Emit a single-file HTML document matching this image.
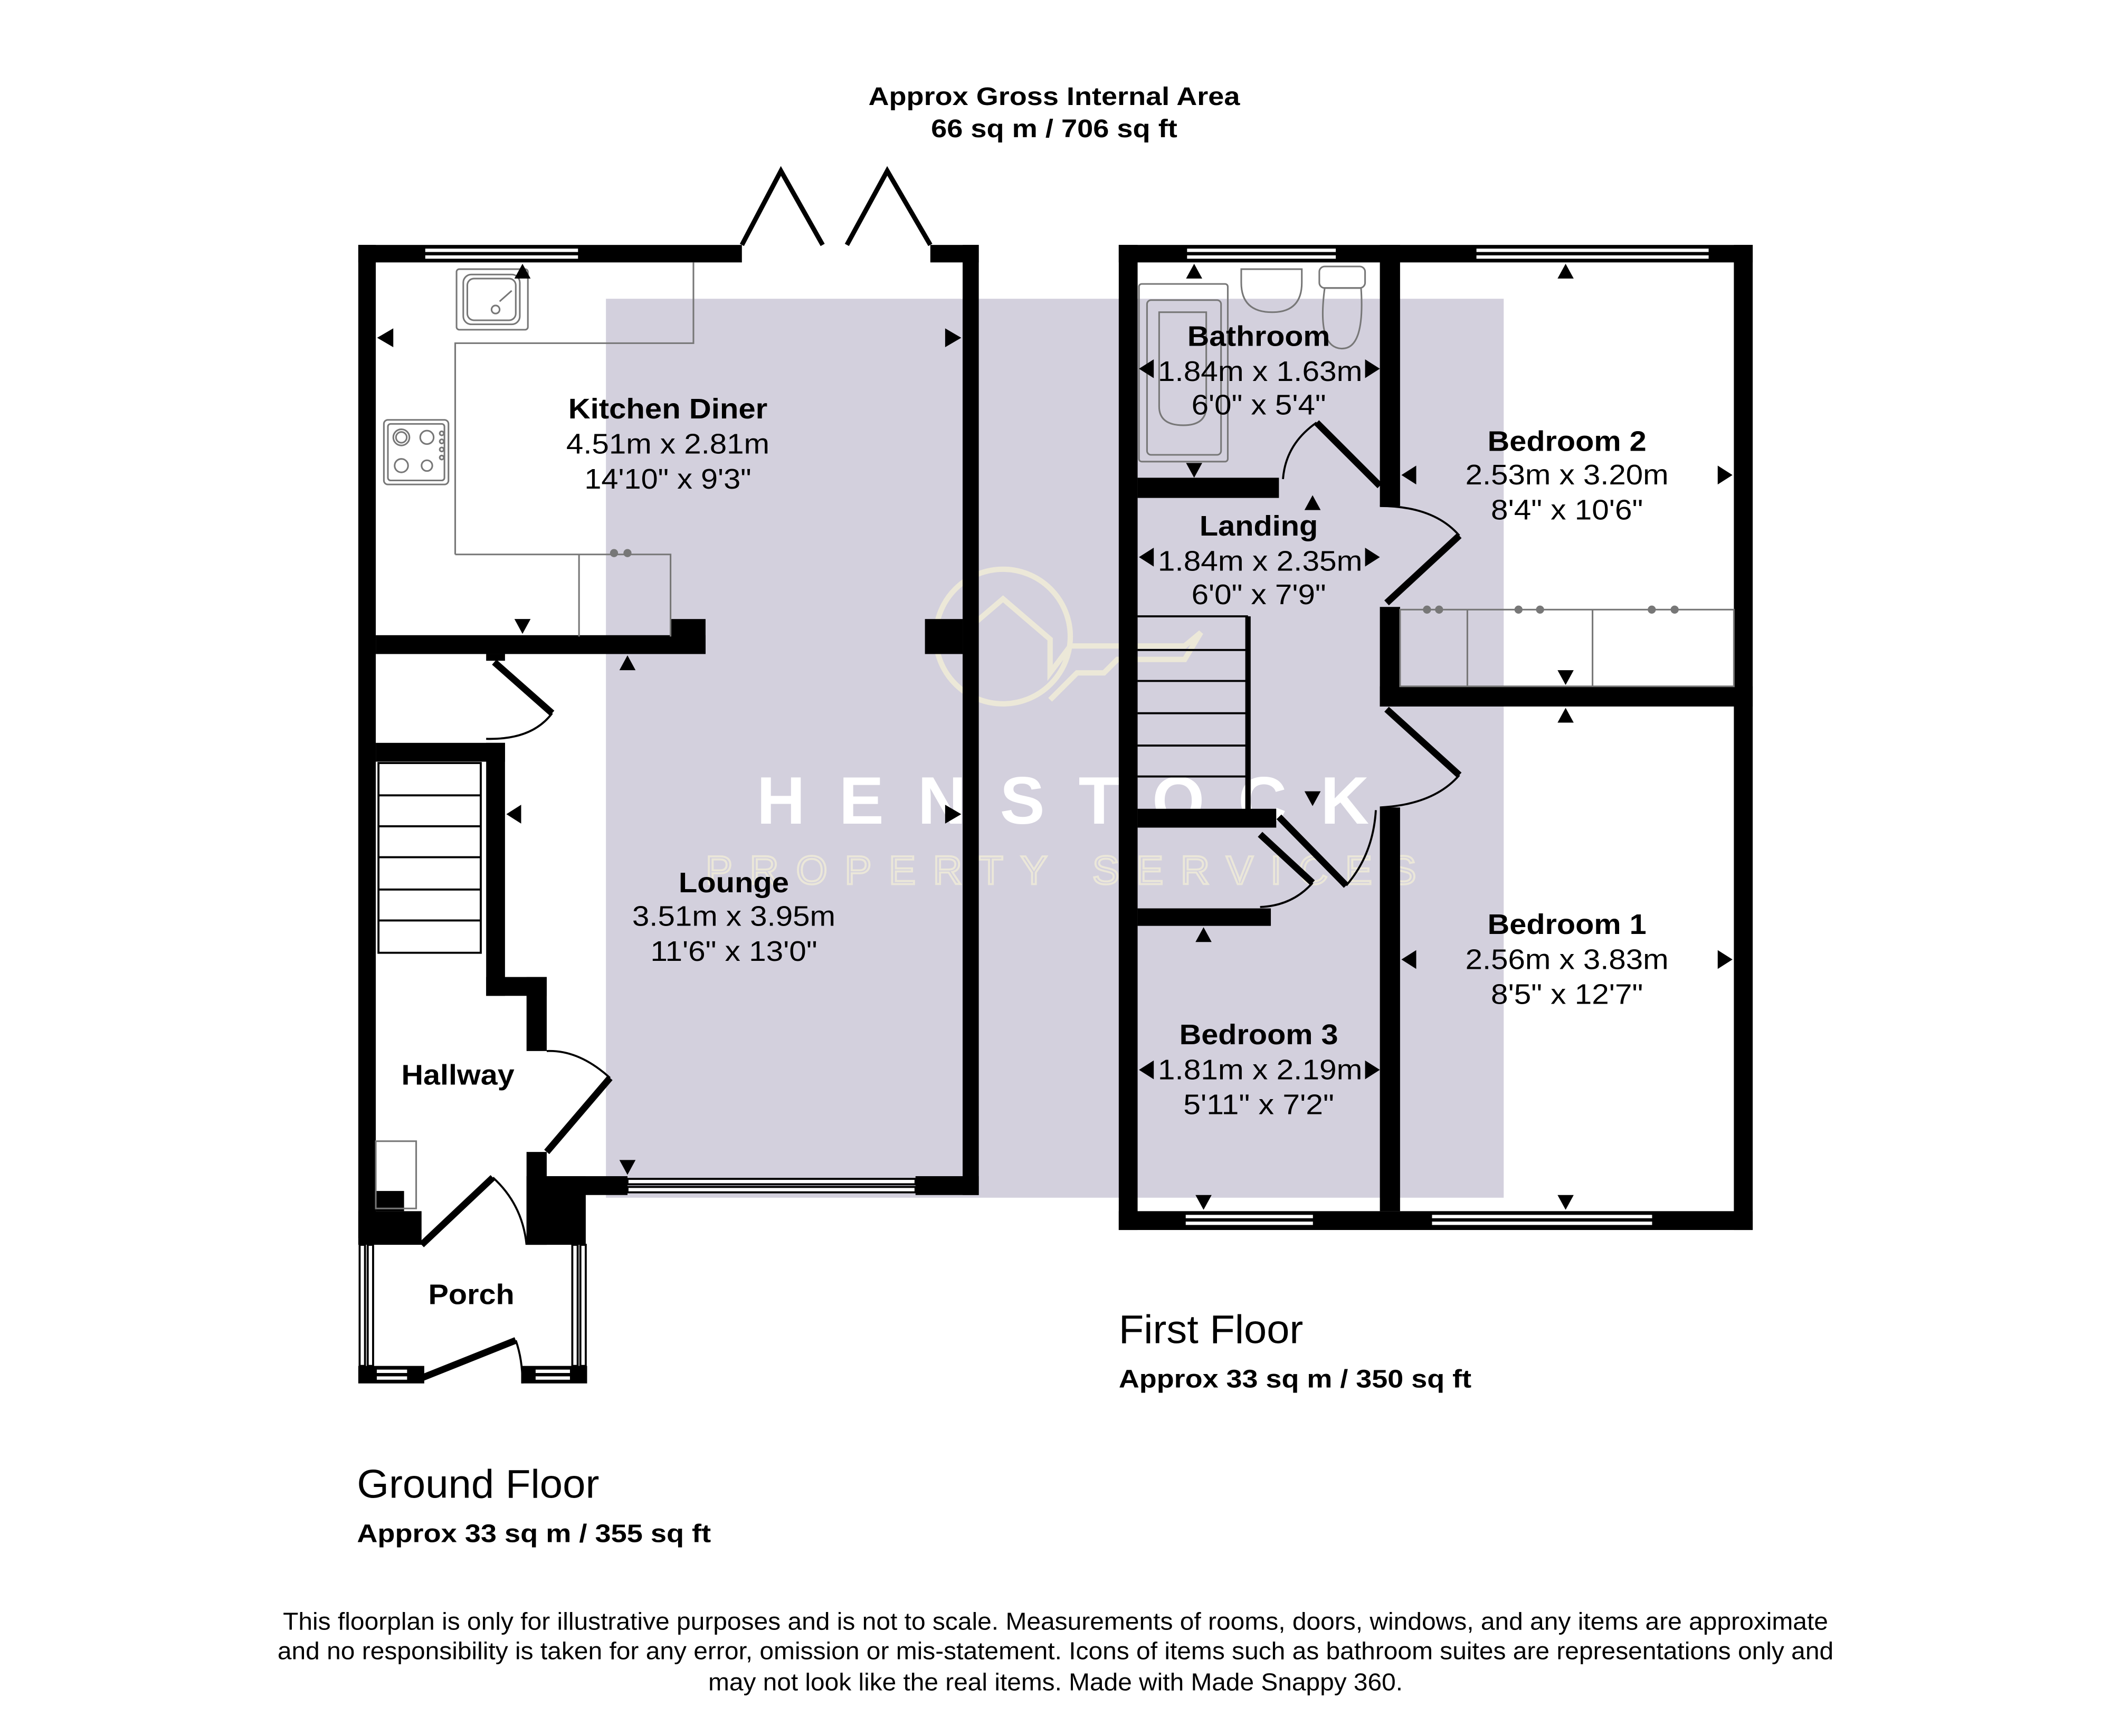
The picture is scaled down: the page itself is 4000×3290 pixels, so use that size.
<!DOCTYPE html>
<html><head><meta charset="utf-8"><style>
html,body{margin:0;padding:0;background:#fff;}
svg{display:block;}
text{font-family:"Liberation Sans Narrow","Liberation Sans",Arial,sans-serif;fill:#000;}
.b{font-weight:bold;}
</style></head><body>
<svg width="4000" height="3290" viewBox="0 0 1568 1290" xmlns="http://www.w3.org/2000/svg">
<rect width="1568" height="1290" fill="#fff"/>
<!-- watermark bg -->
<rect x="450" y="222" width="667" height="668" fill="#d3d0dd"/>
<!-- key logo -->
<g fill="none" stroke="#ece8d8" stroke-width="4">
<circle cx="745" cy="473" r="50"/>
<path d="M710 475 L745 445 L780 475 L780 500 L795 480 L880 480 L892 470 L880 490 L830 490 L820 500 L800 500 L780 520"/>
</g>
<text x="562" y="612" style="font-family:'Liberation Sans',sans-serif;font-weight:bold;font-size:50px;fill:#fff" textLength="455" lengthAdjust="spacing">HENSTOCK</text>
<text x="524" y="657" style="font-family:'Liberation Sans',sans-serif;font-size:30px;fill:none;stroke:#ebe7d9;stroke-width:1.5" textLength="528" lengthAdjust="spacing">PROPERTY SERVICES</text>

<!-- titles -->
<text class="b" x="783" y="78" font-size="19" text-anchor="middle" textLength="276" lengthAdjust="spacingAndGlyphs">Approx Gross Internal Area</text>
<text class="b" x="783" y="102" font-size="19" text-anchor="middle" textLength="183" lengthAdjust="spacingAndGlyphs">66 sq m / 706 sq ft</text>

<g fill="#000">
<!-- GROUND FLOOR walls -->
<rect x="266" y="182" width="285" height="13"/>
<rect x="691" y="182" width="36" height="13"/>
<rect x="266" y="182" width="13" height="738"/>
<rect x="715" y="182" width="12" height="706"/>
<rect x="279" y="472" width="245" height="14"/>
<rect x="498" y="460" width="26" height="26"/>
<rect x="687" y="460" width="28" height="26"/>
<rect x="361" y="486" width="14" height="5"/>
<rect x="279" y="552" width="96" height="14"/>
<rect x="361" y="552" width="14" height="188"/>
<rect x="361" y="726" width="45" height="14"/>
<rect x="391" y="726" width="15" height="55"/>
<rect x="391" y="856" width="15" height="69"/>
<rect x="391" y="874" width="44" height="51"/>
<rect x="406" y="874" width="60" height="14"/>
<rect x="680" y="874" width="47" height="14"/>
<rect x="266" y="900" width="47" height="25"/>
<rect x="279" y="885" width="21" height="15"/>
<rect x="266" y="1015" width="49" height="13"/>
<rect x="387" y="1015" width="49" height="13"/>
<!-- FIRST FLOOR walls -->
<rect x="831" y="182" width="471" height="13"/>
<rect x="831" y="182" width="14" height="732"/>
<rect x="1288" y="182" width="14" height="732"/>
<rect x="831" y="900" width="471" height="14"/>
<rect x="1025" y="182" width="15" height="194"/>
<rect x="1025" y="451" width="15" height="74"/>
<rect x="1025" y="600" width="15" height="300"/>
<rect x="1025" y="510" width="277" height="15"/>
<rect x="845" y="355" width="105" height="15"/>
<rect x="845" y="601" width="103" height="14"/>
<rect x="845" y="675" width="99" height="13"/>
</g>
<!-- windows -->
<g fill="#fff" stroke="#000" stroke-width="1.5">
<rect x="315" y="184" width="115" height="4"/><rect x="315" y="189" width="115" height="4"/>
<rect x="466" y="876" width="214" height="4"/><rect x="466" y="882" width="214" height="4"/>
<rect x="881" y="184" width="112" height="4"/><rect x="881" y="189" width="112" height="4"/>
<rect x="1096" y="184" width="174" height="4"/><rect x="1096" y="189" width="174" height="4"/>
<rect x="880" y="902" width="96" height="4"/><rect x="880" y="907" width="96" height="4"/>
<rect x="1063" y="902" width="165" height="4"/><rect x="1063" y="907" width="165" height="4"/>
<rect x="279" y="1017" width="24" height="4"/><rect x="279" y="1022" width="24" height="4"/>
<rect x="397" y="1017" width="27" height="4"/><rect x="397" y="1022" width="27" height="4"/>
<rect x="267" y="925" width="4" height="90"/><rect x="273" y="925" width="4" height="90"/>
<rect x="425" y="925" width="4" height="90"/><rect x="431" y="925" width="4" height="90"/>
</g>
<!-- bifold doors -->
<g fill="none" stroke="#000" stroke-width="3.5">
<path d="M551 182 L580 127 L611 182"/>
<path d="M629 182 L659 127 L691 182"/>
</g>
<!-- doors -->
<g fill="none" stroke="#000" stroke-width="5">
<path d="M367 492 L410 530"/>
<path d="M406 856 L453 801"/>
<path d="M313 925 L366 875"/>
<path d="M313 1024 L383 996"/>
<path d="M978 314 L1025 361"/>
<path d="M1030 448 L1084 398"/>
<path d="M1030 527 L1084 576"/>
<path d="M950 607 L1000 658"/>
<path d="M936 620 L975 656"/>
</g>
<g fill="none" stroke="#000" stroke-width="1.5">
<path d="M410 530 Q395 550 361 549"/>
<path d="M453 801 Q430 780 406 781"/>
<path d="M366 875 Q388 895 391 925"/>
<path d="M383 996 Q388 1010 388 1028"/>
<path d="M978 314 Q955 330 953 356"/>
<path d="M1084 398 Q1065 376 1025 376"/>
<path d="M1084 576 Q1065 598 1025 600"/>
<path d="M1000 658 Q1020 635 1022 602"/>
<path d="M975 656 Q960 673 936 674"/>
</g>
<!-- stairs -->
<g fill="none" stroke="#000" stroke-width="1.5">
<rect x="281" y="567" width="76" height="141"/>
<path d="M281 591H357M281 614H357M281 637H357M281 661H357M281 684H357"/>
<path d="M927 458V602M845 458H927M845 483H927M845 506H927M845 530H927M845 554H927M845 577H927"/>
</g>
<rect x="925" y="458" width="4" height="144" fill="#000"/>
<!-- kitchen fittings -->
<g fill="none" stroke="#777" stroke-width="1.2">
<path d="M338 412V255H515V195"/>
<path d="M338 412H430V473M430 412H498V473"/>
<rect x="339" y="200" width="53" height="45" rx="2"/>
<rect x="344" y="204" width="42" height="37" rx="6"/>
<rect x="347" y="207" width="36" height="31" rx="5"/>
<circle cx="368" cy="230" r="3"/>
<path d="M371 224L380 216"/>
<rect x="285" y="312" width="48" height="48" rx="3"/>
<rect x="288" y="315" width="42" height="42" rx="2"/>
<circle cx="298" cy="325" r="6"/><circle cx="298" cy="325" r="4"/>
<circle cx="317" cy="325" r="5"/><circle cx="298" cy="346" r="5"/><circle cx="317" cy="346" r="4"/>
<circle cx="328" cy="322" r="1.5"/><circle cx="328" cy="328" r="1.5"/><circle cx="328" cy="334" r="1.5"/><circle cx="328" cy="340" r="1.5"/>
<rect x="279" y="848" width="30" height="50"/>
<!-- bathroom -->
<rect x="846" y="211" width="66" height="132" rx="2"/>
<rect x="852" y="223" width="55" height="115" rx="3"/>
<path d="M861 232h35v70q0 14 -17 14q-18 0 -18 -14z"/>
<path d="M922 200h45v10q0 22 -22 22q-23 0 -23 -22z"/>
<rect x="980" y="198" width="34" height="16" rx="4"/>
<path d="M984 214q-6 45 13 45q17 0 14 -45z"/>
<!-- wardrobe -->
<rect x="1040" y="453" width="248" height="57"/>
<path d="M1090 453V510M1183 453V510"/>
</g>
<g fill="#777"><circle cx="456" cy="411" r="3"/><circle cx="466" cy="411" r="3"/>
<circle cx="1060" cy="453" r="3"/><circle cx="1069" cy="453" r="3"/><circle cx="1128" cy="453" r="3"/><circle cx="1144" cy="453" r="3"/><circle cx="1227" cy="453" r="3"/><circle cx="1244" cy="453" r="3"/></g>
<!-- arrowheads -->
<g fill="#000">
<path d="M388 196l-6 11h12z"/>
<path d="M280 251l12-7v14z"/>
<path d="M714 251l-12-7v14z"/>
<path d="M388 471l-6-11h12z"/>
<path d="M466 487l-6 11h12z"/>
<path d="M376 605l11-7v14z"/>
<path d="M714 605l-12-7v14z"/>
<path d="M466 873l-6-11h12z"/>
<path d="M887 196l-6 11h12z"/>
<path d="M887 355l-6-11h12z"/>
<path d="M846 274l11-7v14z"/>
<path d="M1025 274l-11-7v14z"/>
<path d="M846 414l11-7v14z"/>
<path d="M1025 414l-11-7v14z"/>
<path d="M975 368l-6 11h12z"/>
<path d="M975 599l-6-11h12z"/>
<path d="M1163 196l-6 11h12z"/>
<path d="M1163 509l-6-11h12z"/>
<path d="M1163 526l-6 11h12z"/>
<path d="M1163 899l-6-11h12z"/>
<path d="M1041 353l11-7v14z"/>
<path d="M1287 353l-11-7v14z"/>
<path d="M1041 713l11-7v14z"/>
<path d="M1287 713l-11-7v14z"/>
<path d="M894 689l-6 11h12z"/>
<path d="M894 899l-6-11h12z"/>
<path d="M846 795l11-7v14z"/>
<path d="M1025 795l-11-7v14z"/>
</g>
<!-- room labels -->
<g font-size="21" text-anchor="middle">
<text class="b" x="496" y="311" textLength="148" lengthAdjust="spacingAndGlyphs">Kitchen Diner</text>
<text x="496" y="337" textLength="151" lengthAdjust="spacingAndGlyphs">4.51m x 2.81m</text>
<text x="496" y="363" textLength="124" lengthAdjust="spacingAndGlyphs">14'10" x 9'3"</text>
<text class="b" x="545" y="663" textLength="82" lengthAdjust="spacingAndGlyphs">Lounge</text>
<text x="545" y="688" textLength="151" lengthAdjust="spacingAndGlyphs">3.51m x 3.95m</text>
<text x="545" y="714" textLength="124" lengthAdjust="spacingAndGlyphs">11'6" x 13'0"</text>
<text class="b" x="340" y="806" textLength="84" lengthAdjust="spacingAndGlyphs">Hallway</text>
<text class="b" x="350" y="969" textLength="64" lengthAdjust="spacingAndGlyphs">Porch</text>
<text class="b" x="935" y="257" textLength="106" lengthAdjust="spacingAndGlyphs">Bathroom</text>
<text x="936" y="283" textLength="152" lengthAdjust="spacingAndGlyphs">1.84m x 1.63m</text>
<text x="935" y="308" textLength="100" lengthAdjust="spacingAndGlyphs">6'0" x 5'4"</text>
<text class="b" x="935" y="398" textLength="88" lengthAdjust="spacingAndGlyphs">Landing</text>
<text x="936" y="424" textLength="152" lengthAdjust="spacingAndGlyphs">1.84m x 2.35m</text>
<text x="935" y="449" textLength="100" lengthAdjust="spacingAndGlyphs">6'0" x 7'9"</text>
<text class="b" x="1164" y="335" textLength="118" lengthAdjust="spacingAndGlyphs">Bedroom 2</text>
<text x="1164" y="360" textLength="151" lengthAdjust="spacingAndGlyphs">2.53m x 3.20m</text>
<text x="1164" y="386" textLength="113" lengthAdjust="spacingAndGlyphs">8'4" x 10'6"</text>
<text class="b" x="1164" y="694" textLength="118" lengthAdjust="spacingAndGlyphs">Bedroom 1</text>
<text x="1164" y="720" textLength="151" lengthAdjust="spacingAndGlyphs">2.56m x 3.83m</text>
<text x="1164" y="746" textLength="113" lengthAdjust="spacingAndGlyphs">8'5" x 12'7"</text>
<text class="b" x="935" y="776" textLength="118" lengthAdjust="spacingAndGlyphs">Bedroom 3</text>
<text x="936" y="802" textLength="152" lengthAdjust="spacingAndGlyphs">1.81m x 2.19m</text>
<text x="935" y="828" textLength="112" lengthAdjust="spacingAndGlyphs">5'11" x 7'2"</text>
</g>
<!-- floor titles -->
<text x="831" y="998" font-size="30" textLength="137" lengthAdjust="spacingAndGlyphs">First Floor</text>
<text class="b" x="831" y="1031" font-size="19" textLength="262" lengthAdjust="spacingAndGlyphs">Approx 33 sq m / 350 sq ft</text>
<text x="265" y="1113" font-size="30" textLength="180" lengthAdjust="spacingAndGlyphs">Ground Floor</text>
<text class="b" x="265" y="1146" font-size="19" textLength="263" lengthAdjust="spacingAndGlyphs">Approx 33 sq m / 355 sq ft</text>
<!-- disclaimer -->
<g font-size="18" text-anchor="middle">
<text x="784" y="1211" textLength="1148" lengthAdjust="spacingAndGlyphs">This floorplan is only for illustrative purposes and is not to scale. Measurements of rooms, doors, windows, and any items are approximate</text>
<text x="784" y="1233" textLength="1156" lengthAdjust="spacingAndGlyphs">and no responsibility is taken for any error, omission or mis-statement. Icons of items such as bathroom suites are representations only and</text>
<text x="784" y="1256" textLength="516" lengthAdjust="spacingAndGlyphs">may not look like the real items. Made with Made Snappy 360.</text>
</g>
</svg>
</body></html>
